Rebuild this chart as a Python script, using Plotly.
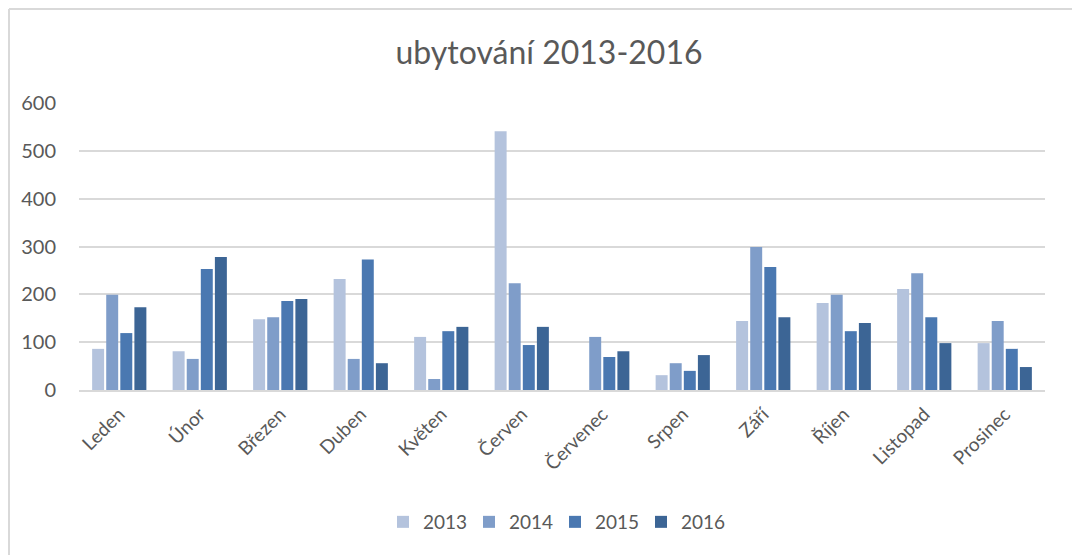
import plotly.graph_objects as go

months = ["Leden", "Únor", "Březen", "Duben", "Květen", "Červen",
          "Červenec", "Srpen", "Září", "Říjen", "Listopad", "Prosinec"]

v2013 = [86, 81, 148, 232, 111, 541, 0, 31, 144, 182, 211, 98]
v2014 = [199, 65, 152, 65, 23, 223, 111, 56, 299, 199, 244, 144]
v2015 = [119, 253, 186, 273, 123, 94, 69, 40, 257, 123, 152, 86]
v2016 = [173, 278, 190, 56, 132, 132, 81, 73, 152, 140, 98, 48]

series = [("2013", v2013, "#B4C3DD"), ("2014", v2014, "#7F9DC9"),
          ("2015", v2015, "#4A78B1"), ("2016", v2016, "#3C6595")]

fig = go.Figure()
for name, vals, col in series:
    fig.add_trace(go.Bar(x=months, y=vals, name=name, marker_color=col,
                         marker_line_width=0))

FONT = "Lato"
GREY = "#595959"
OFF = 8  # page body margin
W, H = 1080, 555
L, R, T, B = 71, 43, 95, 173
pw, ph = W - L - R, H - T - B

def px(x):
    return (x - OFF - L) / pw

def py(y):
    return (H - B - (y - OFF)) / ph

fig.update_layout(
    width=W, height=H,
    margin=dict(l=L, r=R, t=T, b=B, autoexpand=False),
    paper_bgcolor="white", plot_bgcolor="white",
    barmode="group", bargap=0.3, bargroupgap=0.15,
    font=dict(family=FONT, color=GREY, size=16),
    title=dict(text="ubytování 2013-2016", x=px(549), xref="paper",
               xanchor="center", y=1 - (53 - OFF) / H, yanchor="middle",
               font=dict(size=32, color=GREY, family=FONT)),
    yaxis=dict(range=[0, 600], dtick=100, showgrid=True, gridcolor="#D9D9D9",
               gridwidth=1.5, zeroline=False, showline=False,
               tickfont=dict(size=20, color=GREY), ticklabelstandoff=22),
    xaxis=dict(showline=True, linecolor="#D9D9D9", linewidth=1.5,
               tickangle=-45, tickfont=dict(size=19, color=GREY),
               ticks="", ticklabelstandoff=4),
    legend=dict(orientation="h", x=px(555), xanchor="center",
                y=py(522), yanchor="middle", font=dict(size=19, color=GREY),
                itemwidth=30, traceorder="normal",
                entrywidth=41, entrywidthmode="pixels"),
    showlegend=True,
    shapes=[
        dict(type="line", xref="paper", yref="paper", x0=px(OFF + 1), x1=px(W + OFF),
             y0=py(OFF + 1), y1=py(OFF + 1), line=dict(color="#D9D9D9", width=2)),
        dict(type="line", xref="paper", yref="paper", x0=px(OFF + 1), x1=px(OFF + 1),
             y0=py(OFF + 1), y1=py(H + OFF), line=dict(color="#D9D9D9", width=2)),
    ],
)

fig.write_html("out.html")
